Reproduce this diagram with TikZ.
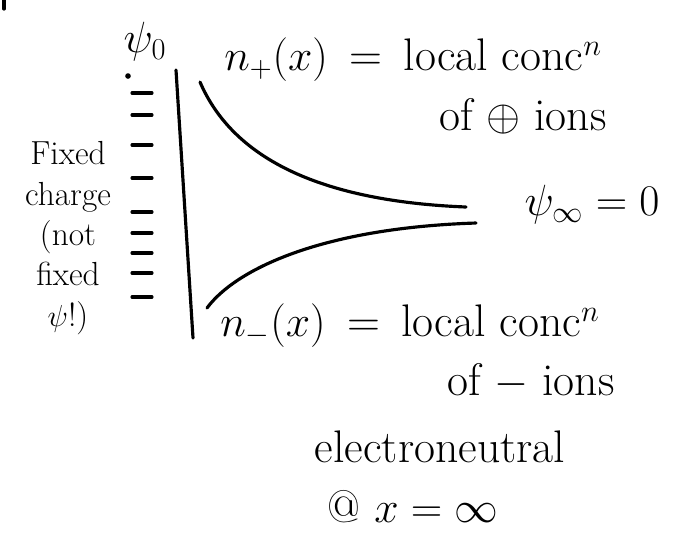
\documentclass[tikz,border=0pt]{standalone}
\usepackage{amsmath, amssymb}
\usetikzlibrary{positioning}

\begin{document}
\begin{tikzpicture}[
    x=0.02cm, y=-0.02cm,
    ink/.style={line width=1.8pt, line cap=round},
    hand/.style={font=\fontsize{26}{30}\selectfont, inner sep=0pt},
    side/.style={font=\fontsize{19}{23}\selectfont, align=center, inner sep=0pt}
]
\useasboundingbox (0,0) rectangle (678,539);

% --- stray mark ---
\draw[ink] (4,0) -- (4,9);

% --- wall with fixed charge ---
\node[hand] (psi0) at (145,42) {$\psi_0$};
\draw[ink] (176,70) -- (193,338);
\fill (128,76) circle[radius=1.6pt];
\foreach \y in {93,115,145,178,212,233,253,273,297}
    \draw[ink] (132,\y) -- (152,\y);
\node[side] (fixq) at (68,238) {Fixed\\charge\\(not\\fixed\\$\psi$!)};

% --- concentration profiles ---
\draw[ink] (200,82) .. controls (225,140) and (290,200) .. (466,207);
\draw[ink] (207,308) .. controls (235,270) and (320,228) .. (476,223);

% --- labels ---
\node[hand, anchor=west] (nplus) at (224,60) {$n_+(x)$\, = \,local conc$^{n}$};
\node[hand] (ionsplus) at (523,116) {of $\oplus$ ions};
\node[hand] (psiinf) at (592,205) {$\psi_\infty = 0$};
\node[hand, anchor=west] (nminus) at (220,326) {$n_-(x)$\, = \,local conc$^{n}$};
\node[hand] (ionsminus) at (531,381) {of $-$ ions};
\node[hand] (eneutral) at (440,447) {electroneutral};
\node[hand] (atinf) at (413,507) {@ $x = \infty$};

\end{tikzpicture}
\end{document}
